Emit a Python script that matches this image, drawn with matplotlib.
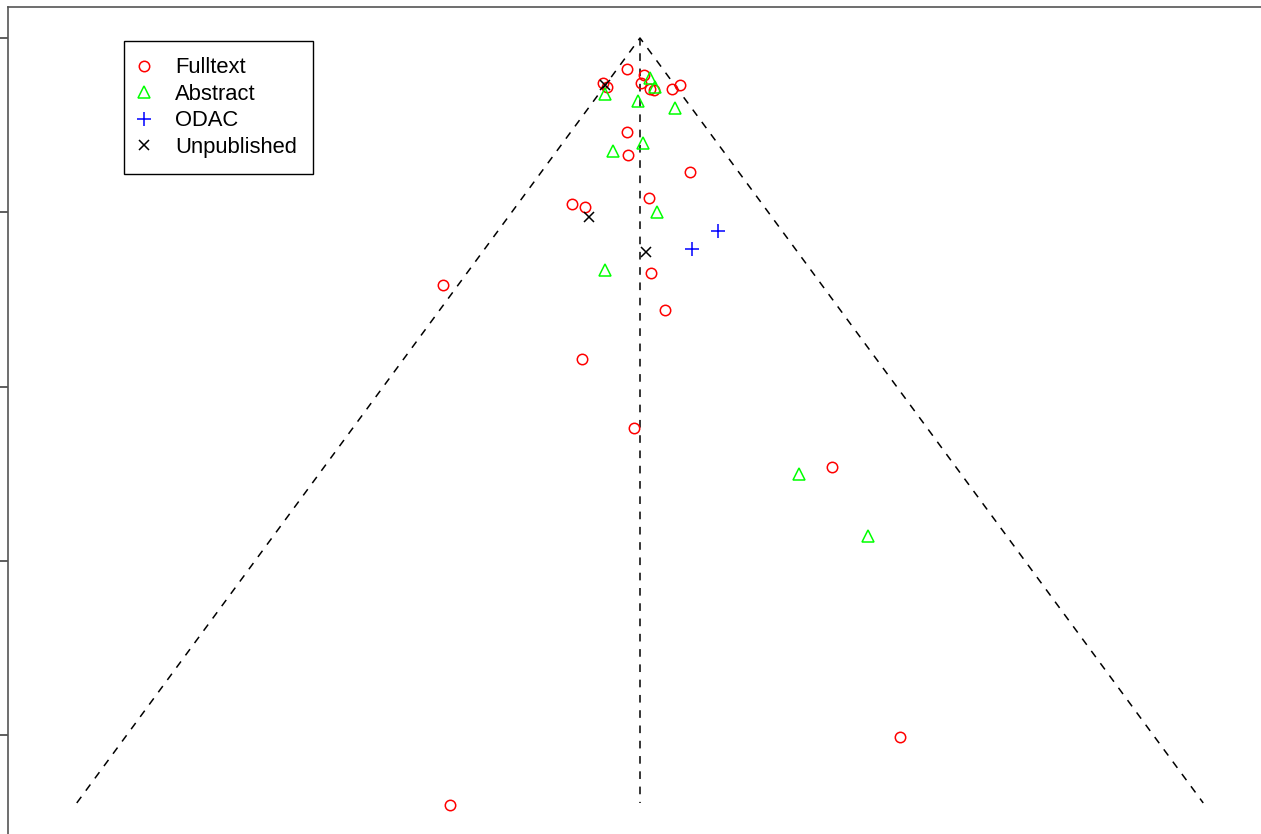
import numpy as np
import matplotlib
matplotlib.use('Agg')
import matplotlib.pyplot as plt

# funnel plot: effect (x) vs standard error (y, reversed)
te_pooled = 0.0
se_max = 0.439

fulltext_x = [-0.020, -0.057, -0.050, 0.006, 0.002, 0.015, 0.021, 0.049, 0.061,
              -0.020, -0.018, 0.076, -0.104, -0.084, 0.014, 0.017, 0.038,
              -0.301, -0.089, -0.009, 0.293, 0.397, -0.290]
fulltext_se = [0.018, 0.026, 0.028, 0.021, 0.026, 0.029, 0.030, 0.029, 0.027,
               0.054, 0.067, 0.077, 0.095, 0.097, 0.092, 0.135, 0.156,
               0.142, 0.184, 0.224, 0.246, 0.401, 0.440]

abstract_x = [-0.054, 0.015, 0.023, -0.003, 0.054, -0.041, 0.005, 0.026, -0.054, 0.243, 0.348]
abstract_se = [0.032, 0.023, 0.028, 0.036, 0.040, 0.065, 0.060, 0.100, 0.133, 0.250, 0.286]

odac_x = [0.079, 0.119]
odac_se = [0.121, 0.111]

unpub_x = [-0.054, -0.078, 0.009]
unpub_se = [0.027, 0.103, 0.123]

plt.rcParams['font.family'] = ['Liberation Sans', 'DejaVu Sans']

fig = plt.figure(figsize=(12.61, 8.34), dpi=100)
W, H = 1261.0, 834.0
ax = fig.add_axes([8/W, 1 - 836/H, 1264/W, (836 - 7)/H])

# funnel lines
ax.plot([te_pooled - 1.96*se_max, te_pooled, te_pooled + 1.96*se_max],
        [se_max, 0, se_max], ls=(0, (5, 5)), color='black', lw=1.1)
ax.plot([te_pooled, te_pooled], [0, se_max], ls=(0, (5, 5)), color='black', lw=1.1)

ms = 7.5
ax.plot(fulltext_x, fulltext_se, 'o', mfc='none', mec='#FF0000', ms=ms, mew=1.1,
        ls='none', label='Fulltext')
ax.plot(abstract_x, abstract_se, '^', mfc='none', mec='#00FF00', ms=ms + 1, mew=1.1,
        ls='none', label='Abstract')
ax.plot(odac_x, odac_se, '+', color='#0000FF', ms=ms + 3, mew=1.1,
        ls='none', label='ODAC')
ax.plot(unpub_x, unpub_se, 'x', color='black', ms=ms - 0.5, mew=1.1,
        ls='none', label='Unpublished')

ax.set_xlim(-0.9655, 0.9655)
ax.set_ylim((836 - 38)/1742.5, (7 - 38)/1742.5)
ax.set_yticks([0, 0.1, 0.2, 0.3, 0.4])
ax.set_xticks([])
ax.tick_params(axis='y', length=6, width=1.1, direction='out', labelleft=False, color='#333333')
for s in ax.spines.values():
    s.set_color('#555555')
    s.set_linewidth(1.2)

leg = ax.legend(loc='upper left', bbox_to_anchor=(124/W, 1 - 41/H),
                bbox_transform=fig.transFigure, fancybox=False, edgecolor='black',
                framealpha=1, fontsize=15.8, handletextpad=1.23, labelspacing=0.25,
                borderpad=0.75, handlelength=0.35, borderaxespad=0)
leg.get_frame().set_linewidth(1.0)

fig.savefig('out.png', dpi=100)
